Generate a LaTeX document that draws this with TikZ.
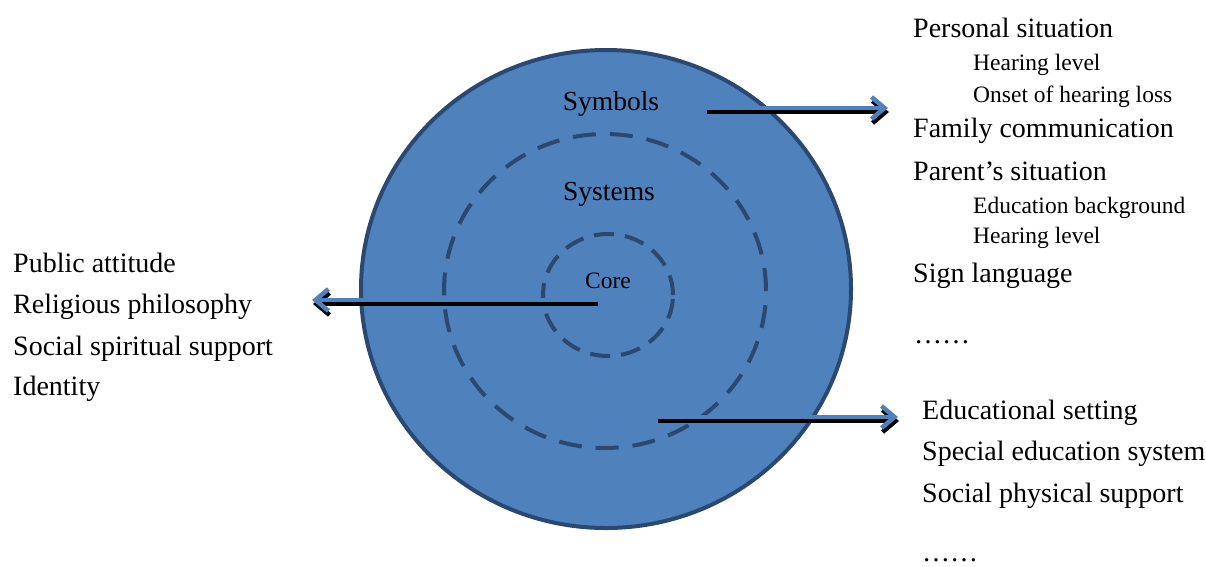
\documentclass[tikz,border=0pt]{standalone}
\usepackage{fontspec}
\setmainfont{Liberation Serif}
\usetikzlibrary{arrows.meta}
\definecolor{ringfill}{HTML}{4F81BD}
\definecolor{ringline}{HTML}{2A4870}
\definecolor{arrowblue}{HTML}{4F81BD}

\begin{document}
\begin{tikzpicture}[x=1pt,y=-1pt,
  big/.style={anchor=base west,inner sep=0pt,font=\fontsize{28}{30}\selectfont},
  small/.style={anchor=base west,inner sep=0pt,font=\fontsize{23.5}{26}\selectfont},
  ringlabel/.style={anchor=base,inner sep=0pt},
  dashring/.style={draw=ringline,line width=4pt},
  pointer/.style={line width=4.5pt,-{Straight Barb[length=13pt,width=22pt]}},
]
\useasboundingbox (0,0) rectangle (1206,566);

% concentric layers
\draw[fill=ringfill,draw=ringline,line width=4pt]
  (606,289) ellipse [x radius=245pt, y radius=239pt];
\draw[dashring,dash pattern=on 23pt off 14pt]
  (605,291) ellipse [x radius=161pt, y radius=157pt];
\draw[dashring,dash pattern=on 20pt off 11pt]
  (608,295) ellipse [x radius=65pt, y radius=61pt];

\node[ringlabel,font=\fontsize{27.5}{30}\selectfont] (symbols) at (611,110) {Symbols};
\node[ringlabel,font=\fontsize{27.5}{30}\selectfont] (systems) at (609,200) {Systems};
\node[ringlabel,font=\fontsize{23.5}{26}\selectfont] (core) at (608,288) {Core};

% left column
\node[big] (pub)  at (13,272) {Public attitude};
\node[big] (rel)  at (13,313) {Religious philosophy};
\node[big] (spir) at (13,355) {Social spiritual support};
\node[big] (ident) at (13,395) {Identity};

% upper right column
\node[big]   (pers)  at (913,37)  {Personal situation};
\node[small] (hear1) at (973,70)  {Hearing level};
\node[small] (onset) at (973,102) {Onset of hearing loss};
\node[big]   (fam)   at (913,137) {Family communication};
\node[big]   (par)   at (913,180) {Parent’s situation};
\node[small] (edub)  at (973,213) {Education background};
\node[small] (hear2) at (973,243) {Hearing level};
\node[big]   (sign)  at (913,282) {Sign language};
\node[big]   (more1) at (914,343) {……};

% lower right column
\node[big] (eset) at (922,419) {Educational setting};
\node[big] (spec) at (922,460) {Special education system};
\node[big] (phys) at (922,502) {Social physical support};
\node[big] (more2) at (922,561) {……};

% pointers out of the layers
\coordinate (symFrom)  at (706,108);
\coordinate (symTo)    at (888,108);
\coordinate (coreFrom) at (597,300);
\coordinate (coreTo)   at (312,300);
\coordinate (sysFrom)  at (657,417);
\coordinate (sysTo)    at (898,417);

% each pointer: a black drop shadow, then the blue arrow on top
\foreach \a/\b in {symFrom/symTo, coreFrom/coreTo, sysFrom/sysTo}{
  \draw[pointer,black] ([shift={(1,4)}]\a) -- ([shift={(1,4)}]\b);
  \draw[pointer,arrowblue] (\a) -- (\b);
}
\end{tikzpicture}
\end{document}
